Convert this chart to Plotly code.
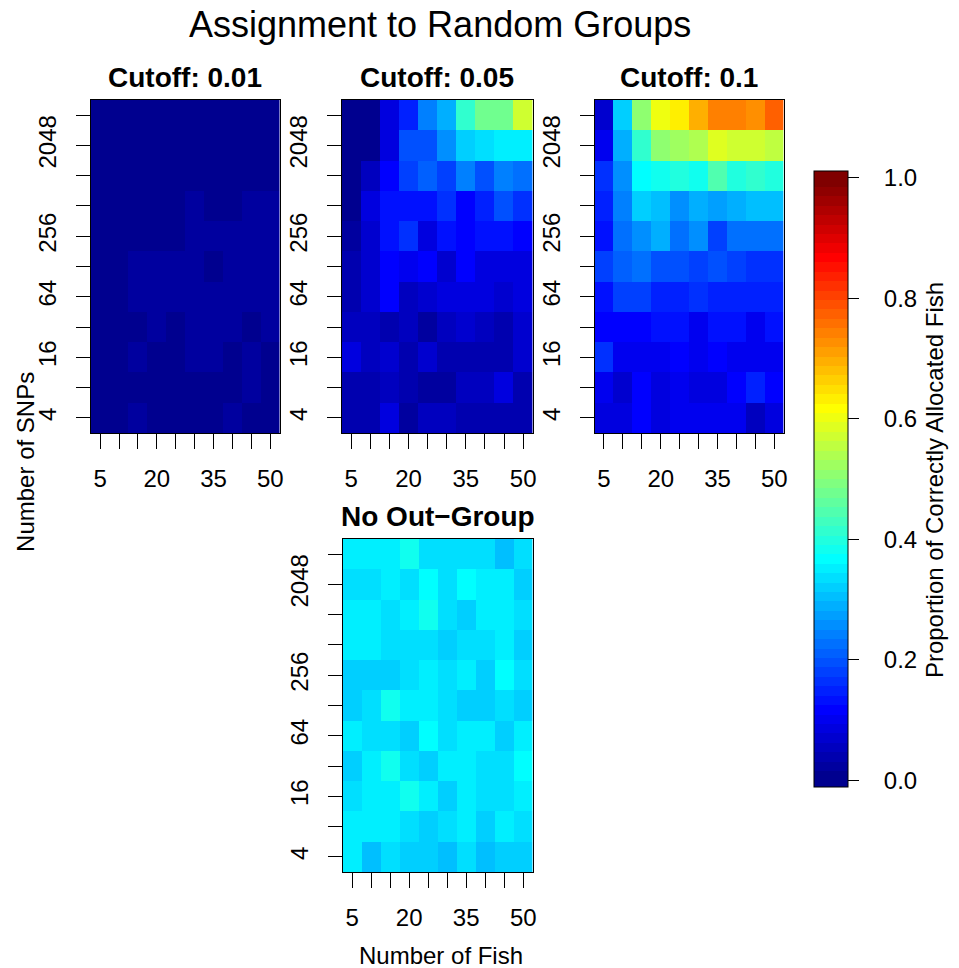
import plotly.graph_objects as go

# ---------------- data ----------------
fish = [5, 10, 15, 20, 25, 30, 35, 40, 45, 50]
snps = [4, 8, 16, 32, 64, 128, 256, 512, 1024, 2048, 4096]
x_tick_labels = ["5", "", "", "20", "", "", "35", "", "", "50"]
y_tick_labels = ["4", "", "16", "", "64", "", "256", "", "", "2048", ""]
cbar_ticks = [0.0, 0.2, 0.4, 0.6, 0.8, 1.0]
cbar_tick_labels = ["0.0", "0.2", "0.4", "0.6", "0.8", "1.0"]

# rows: SNPs 4 -> 4096 ; columns: fish 5 -> 50
cutoff_001 = [
    [0.01, 0.01, 0.02, 0.01, 0.01, 0.01, 0.01, 0.02, 0.01, 0.01],
    [0.01, 0.01, 0.01, 0.01, 0.01, 0.01, 0.01, 0.01, 0.02, 0.01],
    [0.01, 0.01, 0.02, 0.01, 0.01, 0.02, 0.02, 0.01, 0.02, 0.01],
    [0.01, 0.01, 0.01, 0.02, 0.01, 0.02, 0.02, 0.02, 0.01, 0.02],
    [0.01, 0.01, 0.02, 0.02, 0.02, 0.02, 0.02, 0.02, 0.02, 0.02],
    [0.01, 0.01, 0.02, 0.02, 0.02, 0.02, 0.01, 0.02, 0.02, 0.02],
    [0.01, 0.01, 0.01, 0.01, 0.01, 0.02, 0.02, 0.02, 0.02, 0.02],
    [0.01, 0.01, 0.01, 0.01, 0.01, 0.02, 0.01, 0.01, 0.02, 0.02],
    [0.00, 0.01, 0.00, 0.01, 0.01, 0.00, 0.01, 0.01, 0.00, 0.01],
    [0.00, 0.00, 0.01, 0.00, 0.01, 0.01, 0.00, 0.01, 0.01, 0.00],
    [0.00, 0.00, 0.00, 0.01, 0.00, 0.01, 0.01, 0.00, 0.00, 0.01],
]
cutoff_005 = [
    [0.04, 0.04, 0.09, 0.02, 0.05, 0.05, 0.04, 0.04, 0.04, 0.04],
    [0.04, 0.04, 0.05, 0.04, 0.02, 0.02, 0.05, 0.05, 0.09, 0.04],
    [0.09, 0.05, 0.07, 0.04, 0.07, 0.04, 0.04, 0.04, 0.04, 0.07],
    [0.05, 0.05, 0.04, 0.05, 0.02, 0.05, 0.07, 0.05, 0.04, 0.07],
    [0.04, 0.07, 0.12, 0.05, 0.07, 0.09, 0.09, 0.09, 0.07, 0.09],
    [0.04, 0.07, 0.12, 0.10, 0.12, 0.07, 0.12, 0.09, 0.09, 0.09],
    [0.02, 0.07, 0.13, 0.16, 0.09, 0.13, 0.12, 0.13, 0.13, 0.12],
    [0.01, 0.09, 0.13, 0.13, 0.13, 0.16, 0.12, 0.15, 0.19, 0.16],
    [0.01, 0.05, 0.12, 0.18, 0.21, 0.18, 0.24, 0.19, 0.24, 0.23],
    [0.01, 0.01, 0.09, 0.19, 0.19, 0.26, 0.32, 0.34, 0.35, 0.35],
    [0.01, 0.01, 0.09, 0.15, 0.24, 0.29, 0.41, 0.48, 0.48, 0.57],
]
cutoff_010 = [
    [0.09, 0.09, 0.12, 0.09, 0.10, 0.10, 0.10, 0.10, 0.05, 0.09],
    [0.10, 0.07, 0.12, 0.09, 0.10, 0.09, 0.09, 0.12, 0.15, 0.12],
    [0.16, 0.10, 0.10, 0.10, 0.12, 0.10, 0.12, 0.10, 0.10, 0.10],
    [0.12, 0.12, 0.12, 0.13, 0.13, 0.10, 0.13, 0.13, 0.10, 0.13],
    [0.13, 0.18, 0.18, 0.15, 0.15, 0.16, 0.15, 0.15, 0.15, 0.15],
    [0.18, 0.21, 0.23, 0.19, 0.19, 0.18, 0.19, 0.18, 0.16, 0.16],
    [0.13, 0.23, 0.26, 0.29, 0.23, 0.26, 0.18, 0.23, 0.23, 0.23],
    [0.15, 0.24, 0.32, 0.30, 0.26, 0.29, 0.27, 0.29, 0.30, 0.30],
    [0.16, 0.26, 0.37, 0.38, 0.40, 0.38, 0.45, 0.40, 0.41, 0.40],
    [0.10, 0.29, 0.41, 0.51, 0.53, 0.54, 0.59, 0.57, 0.57, 0.55],
    [0.07, 0.32, 0.51, 0.60, 0.63, 0.69, 0.74, 0.74, 0.72, 0.77],
]
no_outgroup = [
    [0.35, 0.30, 0.34, 0.32, 0.32, 0.30, 0.34, 0.30, 0.32, 0.32],
    [0.35, 0.35, 0.35, 0.34, 0.32, 0.34, 0.35, 0.32, 0.35, 0.34],
    [0.34, 0.35, 0.35, 0.38, 0.35, 0.32, 0.35, 0.34, 0.34, 0.35],
    [0.32, 0.35, 0.38, 0.34, 0.32, 0.35, 0.35, 0.34, 0.34, 0.37],
    [0.35, 0.34, 0.34, 0.32, 0.37, 0.34, 0.35, 0.35, 0.32, 0.35],
    [0.32, 0.34, 0.38, 0.35, 0.35, 0.34, 0.32, 0.32, 0.34, 0.32],
    [0.32, 0.32, 0.32, 0.34, 0.35, 0.34, 0.35, 0.32, 0.37, 0.34],
    [0.35, 0.35, 0.34, 0.34, 0.34, 0.32, 0.34, 0.34, 0.35, 0.32],
    [0.35, 0.35, 0.34, 0.35, 0.38, 0.34, 0.32, 0.35, 0.35, 0.34],
    [0.34, 0.34, 0.35, 0.34, 0.37, 0.34, 0.37, 0.35, 0.35, 0.32],
    [0.35, 0.35, 0.35, 0.38, 0.34, 0.34, 0.34, 0.34, 0.30, 0.34],
]

# ---------------- style ----------------
W, H = 959, 968
FONT = "Liberation Sans"

tim_colors = [
    "#00008F", "#00009F", "#0000AF", "#0000BF", "#0000CF", "#0000DF", "#0000EF", "#0000FF",
    "#0010FF", "#0020FF", "#0030FF", "#0040FF", "#0050FF", "#0060FF", "#0070FF", "#0080FF",
    "#008FFF", "#009FFF", "#00AFFF", "#00BFFF", "#00CFFF", "#00DFFF", "#00EFFF", "#00FFFF",
    "#10FFEF", "#20FFDF", "#30FFCF", "#40FFBF", "#50FFAF", "#60FF9F", "#70FF8F", "#80FF80",
    "#8FFF70", "#9FFF60", "#AFFF50", "#BFFF40", "#CFFF30", "#DFFF20", "#EFFF10", "#FFFF00",
    "#FFEF00", "#FFDF00", "#FFCF00", "#FFBF00", "#FFAF00", "#FF9F00", "#FF8F00", "#FF8000",
    "#FF7000", "#FF6000", "#FF5000", "#FF4000", "#FF3000", "#FF2000", "#FF1000", "#FF0000",
    "#EF0000", "#DF0000", "#CF0000", "#BF0000", "#AF0000", "#9F0000", "#8F0000", "#800000",
]
ZMIN, ZMAX = -0.0108, 1.0108


def frac(v):
    return (v - ZMIN) / (ZMAX - ZMIN)


n = len(tim_colors)
colorscale = []
for i, c in enumerate(tim_colors):
    lo = 0.0 if i == 0 else frac(i / n)
    hi = 1.0 if i == n - 1 else frac((i + 1) / n)
    colorscale.append([lo, c])
    colorscale.append([hi, c])


def xd(a, b):
    return [a / W, b / W]


def yd(top, bottom):
    return [1 - bottom / H, 1 - top / H]


panels = [
    ("Cutoff: 0.01", cutoff_001, (91, 281, 100, 433)),
    ("Cutoff: 0.05", cutoff_005, (343, 535, 100, 433)),
    ("Cutoff: 0.1", cutoff_010, (597, 787, 100, 433)),
    ("No Out\u2212Group", no_outgroup, (344, 535, 539, 872)),
]

fig = go.Figure()
snp_cats = [str(s) for s in snps]
annotations = []
for k, (title, z, (x0, x1, y0, y1)) in enumerate(panels, start=1):
    fig.add_trace(go.Heatmap(
        x=fish, y=snp_cats, z=z, coloraxis="coloraxis",
        xaxis=f"x{k}", yaxis=f"y{k}", hoverinfo="skip",
    ))
    fig.layout[f"xaxis{k}"] = dict(
        domain=xd(x0, x1), anchor=f"y{k}", range=[2.5, 52.5],
        tickmode="array", tickvals=fish, ticktext=x_tick_labels,
        ticks="outside", ticklen=15, tickwidth=1, tickcolor="black",
        showline=True, mirror=True, linecolor="black", linewidth=1,
        showgrid=False, zeroline=False, ticklabelstandoff=9,
        tickfont=dict(size=24, color="black", family=FONT),
    )
    fig.layout[f"yaxis{k}"] = dict(
        domain=yd(y0, y1), anchor=f"x{k}", type="category",
        categoryorder="array", categoryarray=snp_cats, range=[-0.5, 10.5],
        tickmode="array", tickvals=snp_cats, ticktext=y_tick_labels, tickangle=-90,
        ticks="outside", ticklen=14, tickwidth=1, tickcolor="black",
        showline=True, mirror=True, linecolor="black", linewidth=1,
        showgrid=False, zeroline=False, ticklabelstandoff=10,
        tickfont=dict(size=24, color="black", family=FONT),
    )
    annotations.append(dict(
        text=f"<b>{title}</b>", x=(x0 + x1) / 2 / W, y=1 - (y0 - 23) / H,
        xref="paper", yref="paper", xanchor="center", yanchor="middle",
        showarrow=False, font=dict(size=28, color="black", family=FONT),
    ))

annotations += [
    dict(text="Assignment to Random Groups", x=442 / W, y=1 - 24 / H,
         xref="paper", yref="paper", xanchor="center", yanchor="middle",
         showarrow=False, font=dict(size=36, color="black", family=FONT)),
    dict(text="Number of Fish", x=443 / W, y=1 - 955 / H,
         xref="paper", yref="paper", xanchor="center", yanchor="middle",
         showarrow=False, font=dict(size=24, color="black", family=FONT)),
    dict(text="Number of SNPs", x=25 / W, y=1 - 462 / H, textangle=-90,
         xref="paper", yref="paper", xanchor="center", yanchor="middle",
         showarrow=False, font=dict(size=24, color="black", family=FONT)),
    dict(text="Proportion of Correctly Allocated Fish", x=938 / W, y=1 - 480 / H,
         textangle=-90, xref="paper", yref="paper", xanchor="center", yanchor="middle",
         showarrow=False, font=dict(size=24, color="black", family=FONT)),
]

# leading no-break spaces push the colour-bar labels away from the ticks
cbar_text = ["\u00a0\u00a0\u00a0" + t for t in cbar_tick_labels]

fig.update_layout(
    width=W, height=H, margin=dict(l=0, r=0, t=0, b=0),
    paper_bgcolor="white", plot_bgcolor="white",
    font=dict(family=FONT, color="black"),
    annotations=annotations, showlegend=False,
    coloraxis=dict(
        colorscale=colorscale, cmin=ZMIN, cmax=ZMAX,
        colorbar=dict(
            x=817 / W, xanchor="left", y=1 - 787 / H, yanchor="bottom",
            len=616, lenmode="pixels", thickness=34, thicknessmode="pixels",
            xpad=0, ypad=0, outlinewidth=1, outlinecolor="black",
            tickmode="array", tickvals=cbar_ticks, ticktext=cbar_text,
            ticks="outside", ticklen=11, tickwidth=1, tickcolor="black",
            tickfont=dict(size=24, color="black", family=FONT),
        ),
    ),
)

fig.write_html("out.html")
